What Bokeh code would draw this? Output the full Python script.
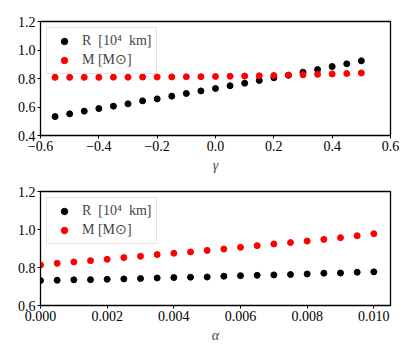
from bokeh.plotting import figure
from bokeh.layouts import column
from bokeh.models import FixedTicker, Legend, LegendItem, Range1d
from bokeh.embed import file_html
from bokeh.resources import INLINE

# ---- data ----
gamma = [-0.55, -0.50, -0.45, -0.40, -0.35, -0.30, -0.25, -0.20, -0.15, -0.10, -0.05,
         0.00, 0.05, 0.10, 0.15, 0.20, 0.25, 0.30, 0.35, 0.40, 0.45, 0.50]
R_gamma = [0.533, 0.552, 0.571, 0.589, 0.606, 0.622, 0.643, 0.657, 0.676, 0.695, 0.713,
           0.730, 0.749, 0.767, 0.786, 0.805, 0.823, 0.844, 0.863, 0.884, 0.903, 0.924]
M_gamma = [0.808, 0.808, 0.808, 0.808, 0.809, 0.809, 0.810, 0.810, 0.811, 0.812, 0.813,
           0.814, 0.816, 0.817, 0.819, 0.821, 0.823, 0.826, 0.829, 0.832, 0.835, 0.839]

alpha = [0.0000, 0.0005, 0.0010, 0.0015, 0.0020, 0.0025, 0.0030, 0.0035, 0.0040, 0.0045,
         0.0050, 0.0055, 0.0060, 0.0065, 0.0070, 0.0075, 0.0080, 0.0085, 0.0090, 0.0095, 0.0100]
R_alpha = [0.731, 0.733, 0.735, 0.736, 0.738, 0.740, 0.742, 0.745, 0.747, 0.749,
           0.750, 0.754, 0.757, 0.759, 0.761, 0.763, 0.766, 0.770, 0.771, 0.775, 0.777]
M_alpha = [0.813, 0.822, 0.829, 0.836, 0.843, 0.852, 0.859, 0.868, 0.875, 0.882,
           0.890, 0.897, 0.906, 0.915, 0.924, 0.931, 0.939, 0.948, 0.957, 0.967, 0.978]

top_xticks = [-0.6, -0.4, -0.2, 0.0, 0.2, 0.4, 0.6]
top_xlabels = ["\u22120.6", "\u22120.4", "\u22120.2", "0.0", "0.2", "0.4", "0.6"]
top_yticks = [0.4, 0.6, 0.8, 1.0, 1.2]
top_ylabels = ["0.4", "0.6", "0.8", "1.0", "1.2"]
bot_xticks = [0.0, 0.002, 0.004, 0.006, 0.008, 0.010]
bot_xlabels = ["0.000", "0.002", "0.004", "0.006", "0.008", "0.010"]
bot_yticks = [0.6, 0.8, 1.0, 1.2]
bot_ylabels = ["0.6", "0.8", "1.0", "1.2"]

label_R = "R  [10\u2074  km]"
label_M = "M [M\u2299]"

FONT = "Liberation Serif"


def make_panel(x, r, m, xr, yr, xt, xl, yt, yl, xlabel, top, height):
    p = figure(width=407, height=height, output_backend="svg", toolbar_location=None,
               x_range=Range1d(*xr), y_range=Range1d(*yr),
               min_border_left=40, min_border_right=17,
               min_border_top=top, min_border_bottom=43)
    p.grid.visible = False
    p.outline_line_color = "black"
    p.outline_line_width = 1.3
    p.background_fill_color = "white"
    p.border_fill_color = "white"

    p.xaxis.ticker = FixedTicker(ticks=xt)
    p.xaxis.major_label_overrides = {t: s for t, s in zip(xt, xl)}
    p.yaxis.ticker = FixedTicker(ticks=yt)
    p.yaxis.major_label_overrides = {t: s for t, s in zip(yt, yl)}
    for ax in (p.xaxis[0], p.yaxis[0]):
        ax.minor_tick_line_color = None
        ax.major_tick_in = 0
        ax.major_tick_out = 3
        ax.major_tick_line_color = "black"
        ax.axis_line_color = "black"
        ax.major_label_text_font = FONT
        ax.major_label_text_font_size = "14px"
        ax.major_label_text_color = "black"
        ax.major_label_standoff = 2
    p.xaxis.axis_label = xlabel
    p.xaxis.axis_label_text_font = FONT
    p.xaxis.axis_label_text_font_style = "italic"
    p.xaxis.axis_label_text_font_size = "14px"
    p.xaxis.axis_label_standoff = 4

    g1 = p.scatter(x, r, size=6, color="black", line_color="black")
    g2 = p.scatter(x, m, size=6, color="red", line_color="red")
    leg = Legend(items=[LegendItem(label=label_R, renderers=[g1]),
                        LegendItem(label=label_M, renderers=[g2])],
                 location="top_left")
    leg.margin = 6
    leg.padding = 5
    leg.spacing = 2
    leg.glyph_width = 24
    leg.glyph_height = 16
    leg.label_height = 16
    leg.label_standoff = 6
    leg.label_text_font = FONT
    leg.label_text_font_size = "14px"
    leg.border_line_color = "#cccccc"
    leg.border_line_width = 1
    leg.background_fill_alpha = 0.8
    p.add_layout(leg)
    return p


p1 = make_panel(gamma, R_gamma, M_gamma, (-0.6, 0.6), (0.4, 1.2),
                top_xticks, top_xlabels, top_yticks, top_ylabels, "\u03b3", 21, 178)
p2 = make_panel(alpha, R_alpha, M_alpha, (0.0, 0.0105), (0.6, 1.2),
                bot_xticks, bot_xlabels, bot_yticks, bot_ylabels, "\u03b1", 13, 170)

layout = column(p1, p2, spacing=0)
open("out.html", "w").write(file_html(layout, INLINE))
